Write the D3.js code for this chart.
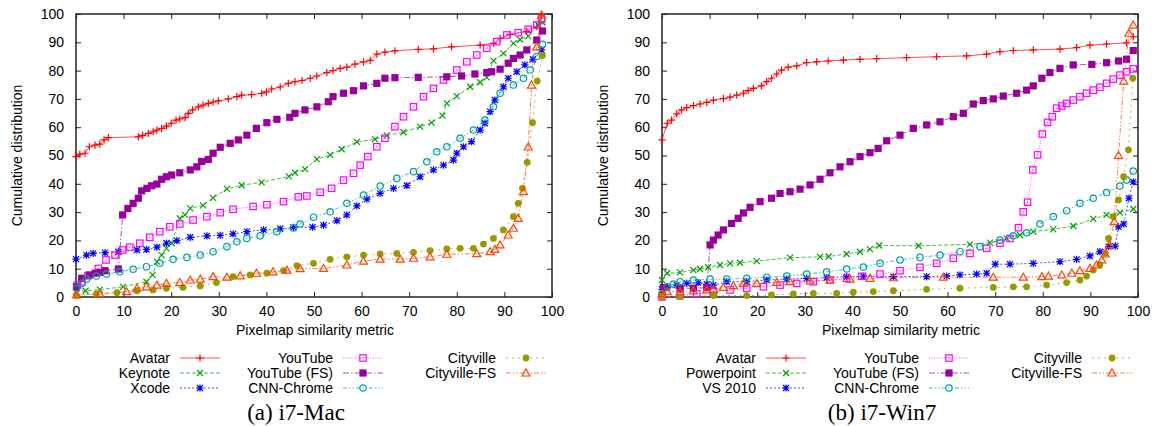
<!DOCTYPE html>
<html>
<head>
<meta charset="utf-8">
<script src="https://cdn.jsdelivr.net/npm/d3@7"></script>
<style>
  body { margin: 0; background: #fff; }
  text { font-family: "Liberation Sans", Arial, sans-serif; fill: #000; }
</style>
</head>
<body>
<div id="chart"></div>
<script>
let width = 1155;
let height = 426;

// axis ticks
let xTicks = [0, 10, 20, 30, 40, 50, 60, 70, 80, 90, 100];
let yTicks = [0, 10, 20, 30, 40, 50, 60, 70, 80, 90, 100];

// series names per panel
let macNames = ["Avatar", "Keynote", "Xcode", "YouTube", "YouTube (FS)", "CNN-Chrome", "Cityville", "Cityville-FS"];
let winNames = ["Avatar", "Powerpoint", "VS 2010", "YouTube", "YouTube (FS)", "CNN-Chrome", "Cityville", "Cityville-FS"];

// (a) i7-Mac  [similarity, cumulative %]
let macAvatar = [[0,49.6],[0.8,50.5],[1.9,50.8],[2.8,53.1],[4,53.7],[5,54],[5.9,55.5],[6.8,56.3],[13.1,56.6],[14,57.1],[15.2,57.8],[16.2,58.4],[17,59],[18,59.6],[19,60.4],[20,61.4],[21,62.5],[21.8,62.9],[22.9,63.4],[23.6,64.9],[24.5,66.1],[25.7,67.2],[26.7,67.8],[27.8,68.4],[28.8,68.9],[29.9,69.3],[32,70],[33.8,70.8],[34.8,71.3],[36.9,71.5],[39,72],[40,72.5],[41.1,73.5],[42.9,74.2],[44.6,75.5],[46,76.1],[47.5,76.5],[49.2,77.3],[50.6,78.1],[52.7,79.3],[54,80],[55.5,80.8],[56.9,81.2],[58.6,82.3],[60.4,83.1],[61.8,83.6],[63.2,85.8],[64.9,86.5],[67,87],[71.9,87.5],[75.1,87.7],[78.9,88.4],[84.9,89],[87.7,89.6],[89.1,91.4],[91.2,92.8],[94.7,93.8],[96.8,95.5],[97.8,99.6]];
let macKeynote = [[0,1.9],[2,2.2],[5,2.6],[9.9,3.6],[14.8,5.4],[16.1,7.8],[17,12.5],[18,14.8],[19,17.2],[20.1,19],[21.8,27.8],[22.9,29],[24,31.3],[26.7,32.4],[28.8,35],[31.7,38.2],[34.8,39.5],[39,40.5],[44.7,42.6],[46,43.9],[48.1,45.2],[50.6,48.7],[53.4,50.2],[55.8,52.2],[59,54.8],[62.8,55.7],[65.3,57.1],[68.8,58.2],[72.3,60.2],[74.7,61.6],[77,64.1],[77.9,68.4],[80,71],[82.8,74.3],[84.9,75.9],[86.3,77.6],[87.7,83.5],[89.8,86.1],[91.9,89.6],[93.3,91],[95,92.2],[97.1,96.1],[98,97]];
let macXcode = [[0,13.4],[2.2,14.8],[3.6,15.4],[6.1,15.7],[8.9,16],[12.8,16.6],[14.8,16.8],[17,17.6],[19,19],[21.2,19.9],[24,21.1],[27.5,21.6],[30.3,21.8],[33,22.3],[35.9,23.1],[39.4,23.7],[42.9,24.1],[45.7,24.6],[49.7,24.7],[52,25.4],[54.8,27],[56.9,29],[59,32.2],[61.1,34.6],[63.9,36.6],[66.7,38.4],[69.5,39.4],[72.3,42.5],[75.1,44.9],[77.2,46.6],[79.3,48.4],[80,50.8],[81.4,53.1],[83.1,54.9],[84.9,59],[85.9,61.4],[87,65.5],[88,69.6],[89.8,74.3],[90.8,77.3],[92.6,79.6],[94.3,82],[96,84],[97.8,87.3]];
let macYouTube = [[0.3,4.2],[1.2,5.4],[2.5,7.5],[4.7,10.1],[6.3,13.1],[8.2,14.8],[9.8,16.6],[11.3,17.6],[13.4,19],[15.5,21.1],[17.6,23.1],[19.7,24.8],[21.8,25.8],[24.6,27.2],[27.5,28.4],[30.3,29.8],[33,31],[37.2,32],[40.1,32.6],[43.6,33.7],[46.7,35.4],[48.5,35.7],[51.3,37],[53.7,38.4],[56.2,41.3],[58.3,43.7],[59.7,46.6],[61.3,49.6],[63.2,53.1],[64.9,56.1],[67,60.2],[68.8,63.7],[70.9,67.2],[73,70.8],[75.1,73.7],[77.2,76.7],[80,80.2],[82.1,83.1],[84.2,85.5],[86.3,87.9],[88.4,90.2],[90.5,92.6],[92.9,93.4],[95,94.6],[96.8,96.1],[97.8,98.1]];
let macYouTubeFS = [[0.1,3.6],[1.2,6.6],[2.8,7.8],[4,8.4],[5,8.7],[6.1,9.3],[8.9,9.9],[9.8,29],[10.9,31.3],[12,33.1],[13.1,34.9],[13.8,37.5],[14.9,38.4],[15.9,39.3],[17,39.9],[18,41.6],[19,42.5],[20.1,43.1],[21.8,43.9],[24,44.9],[25.4,46],[26.4,47.9],[27.8,48.6],[28.8,50.8],[30.3,52.9],[32.4,54.3],[34.1,55.5],[35.9,57.2],[37.9,59.6],[40.1,61.6],[42.2,62.8],[44.9,63.5],[46,64.9],[48.1,66.1],[50.6,67.2],[53,69],[54,70.8],[56.2,72],[58.3,72.9],[60.4,74.6],[63.2,75.5],[64.9,77.3],[67,77.5],[71.9,77.6],[77.9,77.8],[81,78.1],[83.8,78.8],[86.3,79.3],[87.3,79.6],[89.1,80.5],[90.8,82.6],[91.9,84.3],[93.3,85.5],[94.7,87.3],[96.8,90.8],[98,94]];
let macCNN = [[0.1,3.1],[1.2,4.8],[2.2,6.3],[4.3,7.4],[6.4,8.1],[9.2,8.9],[12,9.8],[14.8,10.7],[17.6,11.9],[20.4,13.3],[23.3,14],[26.1,14.8],[28.8,16],[31.7,17.8],[33.8,19.5],[35.9,20.7],[38.7,21.6],[42.2,23.1],[45.7,24.4],[47.1,25.8],[49.9,28.2],[53.4,30.1],[56.9,33.1],[60.4,36],[63.9,39.2],[67.4,41.9],[70.9,44.3],[73.7,47.8],[75.8,51.3],[77.9,53.1],[80.7,56.1],[83.5,59],[85.9,62.5],[87.7,67.2],[89.1,72],[91.9,74.9],[94,77.3],[95.4,80.2],[96.8,85],[98,89.3]];
let macCityville = [[0.1,0.5],[4.3,1.1],[8.6,1.5],[12.8,2.2],[16.2,2.5],[19,3.1],[22.5,3.4],[26.1,3.9],[29.5,5.1],[33,7.2],[36.6,7.8],[40.1,8.4],[43.6,9.3],[46.4,11.1],[49.9,11.9],[53.4,13.3],[56.9,14.2],[60.4,14.8],[63.9,15.2],[67.4,15.4],[70.9,15.8],[74.4,16.4],[77.9,17],[80.7,17.2],[83.5,17.2],[85.6,18.7],[87.7,20.7],[89.8,23.7],[91.9,28.4],[92.9,33.1],[93.8,38.4],[94.8,47.6],[95.9,61.6],[96.9,76.3],[98,85.3]];
let macCityvilleFS = [[0.1,0.7],[5,1.1],[10.6,1.9],[12.8,3.1],[14.8,3.6],[17,4.2],[19,4.8],[21.8,5.1],[24,6],[26.1,6.3],[28.8,7.2],[31.7,7],[34.5,7.5],[37.9,8.4],[41.4,8.9],[44.3,9.5],[47.1,10],[52,10.1],[56.9,11.3],[60.4,12.7],[63.9,13.4],[68.1,13.4],[70.9,13.7],[74.4,14.2],[77.9,15.1],[84.2,15.3],[87,16],[88,16.8],[89.1,18.4],[90.8,21.9],[91.9,24.3],[92.9,27.8],[94,37.2],[95,53],[95.7,74.9],[96.8,88.4],[97.8,99.6]];

// (b) i7-Win7
let winAvatar = [[0,55.5],[1.1,61.4],[2,62.5],[3.1,64.7],[4.1,66.1],[5.2,66.9],[6.6,67.6],[8,68.2],[9.4,68.8],[10.8,69.6],[12.9,70.1],[14.3,70.6],[15.7,71.3],[17.1,72],[18.1,72.9],[19.2,73.7],[20.9,74.6],[22,76.1],[23,77.3],[24.1,78.8],[25.1,80.2],[26.5,81.2],[28.3,81.7],[30.4,82.8],[32.5,83.1],[34.9,83.4],[38.1,83.7],[41.6,84],[45.1,84.2],[51.4,84.6],[57.7,84.9],[64,85.2],[68.2,85.8],[71,86.7],[73.8,87.1],[78,87.3],[83.6,87.6],[87.1,88.1],[89.9,89],[93.4,89.4],[97.6,89.8],[99,92]];
let winPowerpoint = [[0,6],[1.1,8.4],[3.8,8.7],[6.6,9.5],[8,9.9],[9.7,10.5],[12.2,11.3],[14.3,11.9],[16.4,12.1],[19.9,12.7],[26.9,13.9],[33.2,14.2],[35,14.3],[38.8,15.2],[41.6,16],[43.7,16.9],[45.6,18.2],[53.9,18.1],[64.7,18.6],[68.9,19.2],[72.4,20.7],[75.2,21.9],[78,23.1],[82.2,23.9],[86.4,25.1],[90.6,27.6],[93.4,29],[96.2,29.8],[99,31.1]];
let winVS = [[0,2.7],[1.1,3.4],[3.1,4.2],[5.2,4.8],[7.6,5.1],[9.4,4.5],[10.8,4.2],[13.6,5.4],[17.8,5.4],[22,6],[26.2,6.3],[30.4,6.6],[34.6,6.8],[38.8,7.2],[42.3,7.3],[48.6,7.2],[55.6,7.2],[59.8,7.4],[62.6,7.8],[66.1,8.1],[68.2,8.4],[70,11.6],[73.1,11.6],[78,11.9],[83.6,12.5],[87.1,13.3],[89.9,14.5],[92,16],[93.8,17.8],[95.2,18],[95.9,24.8],[97,25.8],[98.1,34.9],[99,40.7]];
let winYouTube = [[0,0],[3.8,0.5],[7.3,1.1],[10.8,1.9],[14.3,2.5],[17.8,3.1],[21.3,3.6],[24.8,4.2],[28.3,4.8],[31.8,5.4],[35.3,6],[38.8,6.6],[42,7.3],[45.8,8.1],[50,9.3],[54.2,10.5],[57.7,11.9],[61.2,13.7],[64.7,15.4],[68.2,17.2],[71,19],[73.1,20.7],[74.9,24.5],[75.9,30.1],[76.8,33.5],[77.9,44.9],[78.9,50.2],[79.9,57.6],[81,61.7],[82,63.7],[82.9,66.7],[84,67.5],[85,68.4],[86.4,69.6],[87.8,70.8],[89.2,72],[90.6,73.1],[92,74.1],[93.4,75.5],[94.8,77],[96.2,78.4],[97.6,79.6],[99,80.6]];
let winYouTubeFS = [[0.3,3.4],[3.8,3.1],[6.6,3.1],[9.4,3.3],[10.1,18.4],[10.8,20.1],[11.8,21.9],[12.9,23.7],[14.6,26],[16,27.8],[17.1,29.7],[18.5,31.7],[20.6,33.7],[23,34.9],[24.8,36.6],[26.9,37.2],[29,38.1],[31.1,39.6],[33.2,41.6],[35.3,43.9],[37.4,46],[39.5,47.8],[41.6,49.6],[43.7,51],[45.4,52.5],[47.2,55.2],[50,57.2],[52.8,59.6],[55.6,60.8],[58.4,61.9],[61.2,63.7],[63.3,64.9],[65.4,68.2],[67.5,69.4],[69.6,70],[71.7,71],[74.5,72],[76.6,73.1],[78,74.6],[79.8,77.3],[81.5,79.3],[83.6,80.8],[86.4,82],[90.3,82.2],[93.4,82.8],[95.9,83.4],[97.6,84],[99,87.1]];
let winCNN = [[0,1.1],[1.1,3.6],[2.4,4.6],[3.8,5.4],[6.6,6],[10.1,6.3],[13.6,6.3],[17.8,6.6],[22,7],[26.2,7.4],[30.4,8.1],[34.6,8.9],[38.8,9.9],[42.3,10.6],[45.8,11.9],[50,13.1],[54.2,14],[58.4,14.8],[62.6,16],[66.8,17.8],[71,20.1],[73.8,21.6],[76.6,22.7],[79.4,25.8],[82.2,28.4],[85,30.5],[87.8,33.1],[90.6,34.9],[93.4,36.9],[96.2,39.2],[97.6,41.3],[99,44.5]];
let winCityville = [[0,0.1],[3.8,0.1],[10.8,0.5],[17.8,0.5],[23,0.7],[27.6,1.1],[31.8,1.3],[36.7,1.3],[40.2,1.7],[44.4,1.9],[48.6,2.2],[55.6,2.7],[62.6,3.1],[69.6,3.4],[73.8,3.6],[76.6,3.6],[80.8,4.2],[85,5.1],[87.8,6],[89.2,7.4],[90.6,9.5],[92,11.3],[93.1,15.4],[93.8,20.7],[94.8,28.4],[95.9,34.3],[97,42.5],[98,52],[98.9,77.3]];
let winCityvilleFS = [[0,1.1],[1.1,1.9],[3.8,1.9],[6.6,2.2],[9.4,2.5],[10.8,2.7],[12.9,3.4],[15,4],[17.1,4.8],[19.9,4.8],[24.1,5.2],[26.9,5.4],[31.1,5.7],[35.3,6],[39.5,6.3],[43.7,6.6],[48.6,6.8],[59.1,7],[69.6,7],[75.9,7],[79.8,7.2],[81.2,7.4],[84,7.8],[86.1,8.4],[87.8,9.3],[89.9,10.1],[91.3,11.3],[92.4,13.1],[93.1,15.2],[94,18.4],[95,26.6],[95.9,50],[97,76.3],[98.1,93.2],[99,96.1]];

// style of each series slot (same order in both panels)
let styles = [
    {color: "#ff0000", dash: null,               marker: "plus"},
    {color: "#00a000", dash: "4,2",              marker: "cross"},
    {color: "#0000ff", dash: "2,2",              marker: "star"},
    {color: "#ff00ff", dash: "1,1.5",            marker: "squareOpen"},
    {color: "#990099", dash: "6,2,1.5,2",        marker: "squareFilled"},
    {color: "#00a0a0", dash: "4,2,1.5,2,1.5,2",  marker: "circleOpen"},
    {color: "#999900", dash: "2,4",              marker: "circleFilled"},
    {color: "#ff4400", dash: "5,2,1.5,2,1.5,2",  marker: "triangleOpen"}
];

let panels = [
    {left: 76, caption: "(a) i7-Mac", names: macNames,
     series: [macAvatar, macKeynote, macXcode, macYouTube, macYouTubeFS, macCNN, macCityville, macCityvilleFS]},
    {left: 662, caption: "(b) i7-Win7", names: winNames,
     series: [winAvatar, winPowerpoint, winVS, winYouTube, winYouTubeFS, winCNN, winCityville, winCityvilleFS]}
];

let plotW = 476;
let plotTop = 14, plotBottom = 297;

let svg = d3.select("#chart")
    .append("svg")
    .attr("width", width)
    .attr("height", height);

// draw one marker at (x, y)
function drawMarker(g, kind, color, x, y) {
    let s = 3.6;
    if (kind === "plus") {
        g.append("path").attr("d", `M${x-s},${y}H${x+s}M${x},${y-s}V${y+s}`)
            .attr("stroke", color).attr("stroke-width", 1.2).attr("fill", "none");
    } else if (kind === "cross") {
        g.append("path").attr("d", `M${x-3},${y-3}L${x+3},${y+3}M${x-3},${y+3}L${x+3},${y-3}`)
            .attr("stroke", color).attr("stroke-width", 1.2).attr("fill", "none");
    } else if (kind === "star") {
        g.append("path").attr("d", `M${x-s},${y}H${x+s}M${x},${y-s}V${y+s}M${x-3},${y-3}L${x+3},${y+3}M${x-3},${y+3}L${x+3},${y-3}`)
            .attr("stroke", color).attr("stroke-width", 1.2).attr("fill", "none");
    } else if (kind === "squareOpen") {
        g.append("rect").attr("x", x-3.2).attr("y", y-3.2).attr("width", 6.4).attr("height", 6.4)
            .attr("stroke", color).attr("stroke-width", 1.2).attr("fill", "none");
        g.append("rect").attr("x", x-0.5).attr("y", y-0.5).attr("width", 1).attr("height", 1).attr("fill", color);
    } else if (kind === "squareFilled") {
        g.append("rect").attr("x", x-3.6).attr("y", y-3.6).attr("width", 7.2).attr("height", 7.2).attr("fill", color);
    } else if (kind === "circleOpen") {
        g.append("circle").attr("cx", x).attr("cy", y).attr("r", 3.2)
            .attr("stroke", color).attr("stroke-width", 1.2).attr("fill", "none");
    } else if (kind === "circleFilled") {
        g.append("circle").attr("cx", x).attr("cy", y).attr("r", 3.4).attr("fill", color);
    } else if (kind === "triangleOpen") {
        g.append("path").attr("d", `M${x},${y-4}L${x+4},${y+3}L${x-4},${y+3}Z`)
            .attr("stroke", color).attr("stroke-width", 1.2).attr("fill", "none");
    }
}

panels.forEach(function(p) {
    let xScale = d3.scaleLinear().domain([0, 100]).range([p.left, p.left + plotW]);
    let yScale = d3.scaleLinear().domain([0, 100]).range([plotBottom, plotTop]);

    let g = svg.append("g");

    // axes with inward ticks on all four sides
    g.append("g").attr("transform", `translate(0,${plotBottom})`)
        .call(d3.axisBottom(xScale).tickValues(xTicks).tickSizeInner(-5).tickSizeOuter(0).tickPadding(9))
        .call(a => a.select(".domain").remove());
    g.append("g").attr("transform", `translate(0,${plotTop})`)
        .call(d3.axisTop(xScale).tickValues(xTicks).tickSizeInner(-5).tickSizeOuter(0).tickFormat(""))
        .call(a => a.select(".domain").remove());
    g.append("g").attr("transform", `translate(${p.left},0)`)
        .call(d3.axisLeft(yScale).tickValues(yTicks).tickSizeInner(-5).tickSizeOuter(0).tickPadding(12))
        .call(a => a.select(".domain").remove());
    g.append("g").attr("transform", `translate(${p.left + plotW},0)`)
        .call(d3.axisRight(yScale).tickValues(yTicks).tickSizeInner(-5).tickSizeOuter(0).tickFormat(""))
        .call(a => a.select(".domain").remove());
    g.selectAll(".tick text").style("font-size", "14px").style("font-family", "'Liberation Sans', Arial, sans-serif").attr("fill", "#000");
    g.selectAll(".tick line").attr("stroke", "#222");

    g.append("rect")
        .attr("x", p.left).attr("y", plotTop)
        .attr("width", plotW).attr("height", plotBottom - plotTop)
        .attr("fill", "none").attr("stroke", "#222").attr("stroke-width", 1.5);

    // series lines and markers
    let line = d3.line().x(d => xScale(d[0])).y(d => yScale(d[1]));
    p.series.forEach(function(data, i) {
        let st = styles[i];
        g.append("path").datum(data)
            .attr("d", line)
            .attr("fill", "none")
            .attr("stroke", st.color)
            .attr("stroke-opacity", 0.7)
            .attr("stroke-width", 1)
            .attr("stroke-dasharray", st.dash);
        let mg = g.append("g");
        data.forEach(d => drawMarker(mg, st.marker, st.color, xScale(d[0]), yScale(d[1])));
    });

    // axis titles
    g.append("text")
        .attr("x", p.left + plotW / 2 + 1).attr("y", 335)
        .attr("text-anchor", "middle").style("font-size", "14px")
        .text("Pixelmap similarity metric");
    g.append("text")
        .attr("transform", `translate(${p.left - 54},${(plotTop + plotBottom) / 2}) rotate(-90)`)
        .attr("text-anchor", "middle").style("font-size", "14px")
        .text("Cumulative distribution");

    // legend, three columns
    let colText = [p.left + 94, p.left + 257, p.left + 420];
    let rowY = [358, 373, 388];
    p.names.forEach(function(name, i) {
        let col = Math.floor(i / 3), row = i % 3;
        let st = styles[i];
        let tx = colText[col], ty = rowY[row];
        g.append("text")
            .attr("x", tx).attr("y", ty + 5)
            .attr("text-anchor", "end").style("font-size", "14px")
            .text(name);
        g.append("line")
            .attr("x1", tx + 10).attr("x2", tx + 50)
            .attr("y1", ty).attr("y2", ty)
            .attr("stroke", st.color).attr("stroke-opacity", 0.7)
            .attr("stroke-dasharray", st.dash);
        drawMarker(g, st.marker, st.color, tx + 30, ty);
    });

    // caption
    g.append("text")
        .attr("x", p.left + 220).attr("y", 420)
        .attr("text-anchor", "middle")
        .style("font-family", "'Liberation Serif', 'Times New Roman', serif")
        .style("font-size", "23px")
        .text(p.caption);
});
</script>
</body>
</html>
